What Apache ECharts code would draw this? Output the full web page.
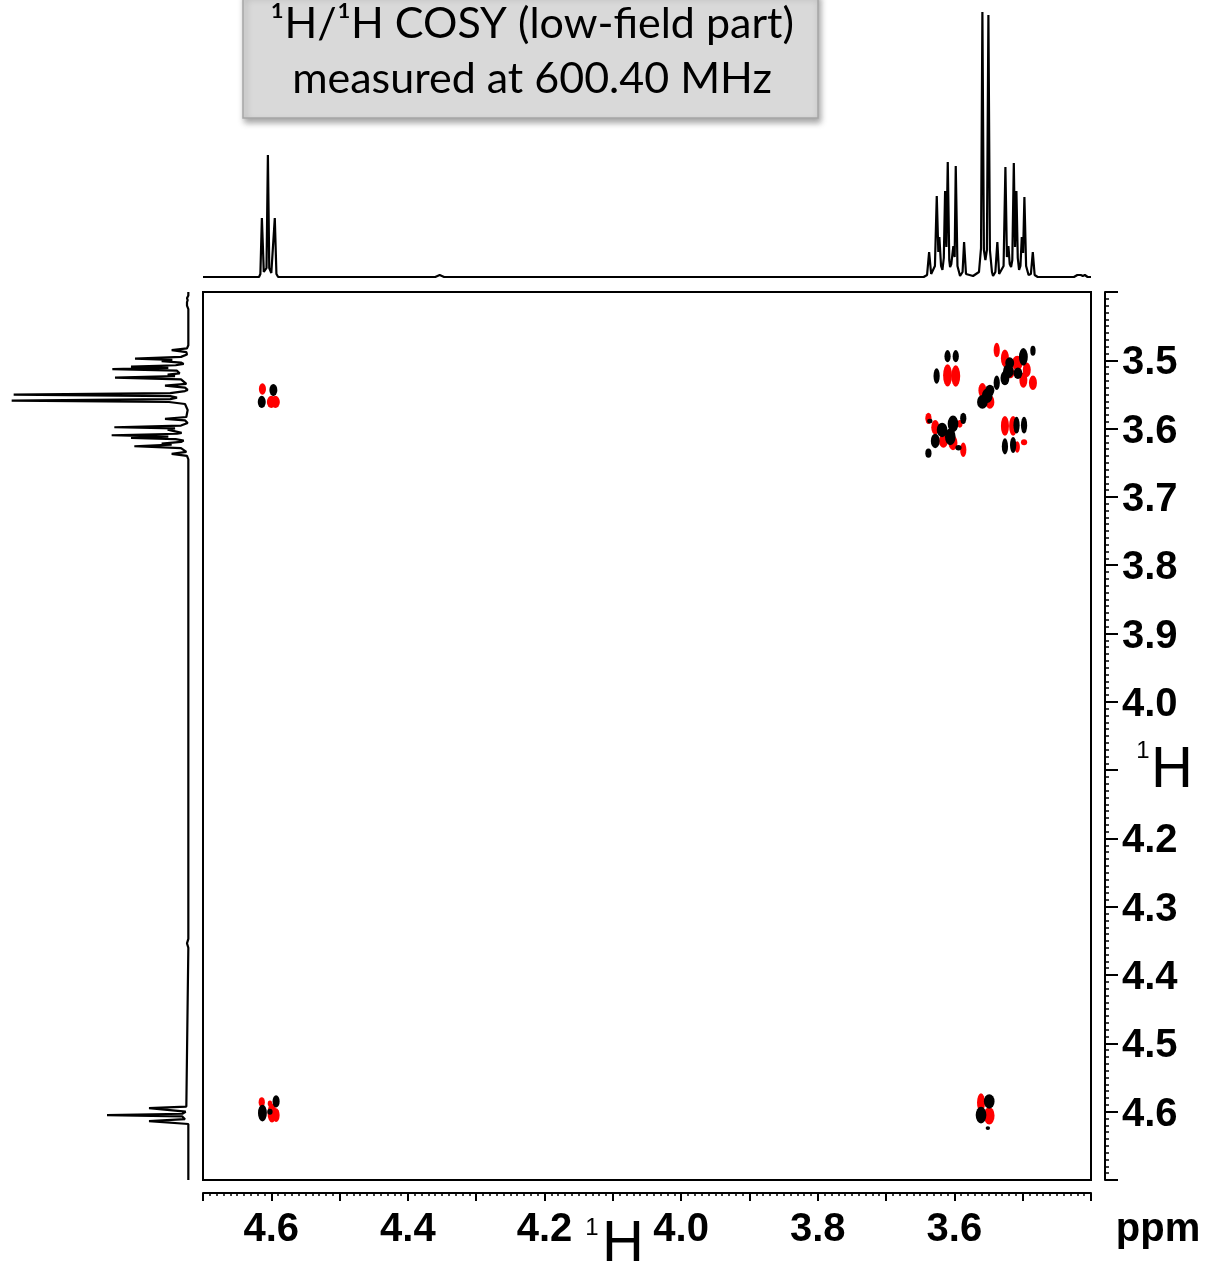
<!DOCTYPE html>
<html>
<head>
<meta charset="utf-8">
<script src="https://cdn.jsdelivr.net/npm/echarts@6/dist/echarts.min.js"></script>
<style>
  html, body { margin: 0; padding: 0; background: #fff; }
  #main { width: 1209px; height: 1267px; }
</style>
</head>
<body>
<div id="main"></div>
<script>
// ppm range of both axes
var ppmMin = 3.40
var ppmMax = 4.70

// 1D 1H projection, [ppm, intensity]
var projection = [
  [4.700, 1], [4.618, 1], [4.6160, 4], [4.6138, 60], [4.6110, 6], [4.6095, 5], [4.6070, 10],
  [4.6050, 123], [4.6030, 10], [4.6000, 5], [4.5975, 6], [4.5949, 60], [4.5925, 4], [4.5900, 1],
  [4.360, 1], [4.3535, 3], [4.347, 1],
  [3.645, 1], [3.640, 3], [3.637, 26], [3.634, 4], [3.6317, 3], [3.6285, 12], [3.6258, 82],
  [3.6235, 26], [3.6220, 41], [3.6195, 12], [3.6175, 8], [3.6155, 20], [3.6136, 87], [3.6117, 31],
  [3.6097, 116], [3.6075, 18], [3.6063, 11], [3.6045, 14], [3.6015, 32], [3.5996, 21], [3.5980, 112],
  [3.5955, 12], [3.5917, 2], [3.5880, 6], [3.5858, 36], [3.5830, 4], [3.5727, 2], [3.5640, 6],
  [3.5610, 30], [3.5590, 266], [3.5568, 28], [3.5546, 18], [3.5524, 28], [3.5502, 263], [3.5480, 28],
  [3.5450, 6], [3.5434, 2], [3.5400, 6], [3.5371, 36], [3.5345, 4], [3.5317, 2], [3.5280, 12],
  [3.5253, 111], [3.5231, 21], [3.5209, 32], [3.5190, 14], [3.5170, 11], [3.5152, 18], [3.5130, 115],
  [3.5112, 31], [3.5092, 87], [3.5072, 20], [3.5053, 8], [3.5033, 12], [3.5013, 41], [3.4994, 25],
  [3.4975, 81], [3.4950, 12], [3.4914, 3], [3.4880, 4], [3.4852, 26], [3.4825, 3], [3.478, 1],
  [3.425, 1], [3.420, 3], [3.418, 1], [3.415, 3], [3.412, 2], [3.409, 3], [3.405, 1], [3.400, 1]
]

// cross peak contours, [f2 ppm, f1 ppm, extent f2, extent f1] (ppm)
var positivePeaks = [
  [4.597, 3.5435, 0.009, 0.016], [4.614, 3.561, 0.009, 0.016],
  [4.593, 4.585, 0.008, 0.016], [4.613, 4.602, 0.010, 0.022], [4.602, 4.600, 0.006, 0.008],
  [3.549, 4.585, 0.012, 0.019], [3.561, 4.605, 0.012, 0.022], [3.551, 4.624, 0.005, 0.005],
  [3.610, 3.494, 0.007, 0.016], [3.598, 3.494, 0.007, 0.016], [3.626, 3.523, 0.007, 0.020],
  [3.499, 3.495, 0.010, 0.023], [3.485, 3.486, 0.006, 0.013], [3.519, 3.504, 0.010, 0.015],
  [3.521, 3.516, 0.012, 0.018], [3.507, 3.519, 0.010, 0.015], [3.526, 3.526, 0.010, 0.019],
  [3.538, 3.533, 0.007, 0.019], [3.548, 3.544, 0.010, 0.015], [3.552, 3.552, 0.012, 0.019],
  [3.559, 3.561, 0.012, 0.018],
  [3.636, 3.589, 0.006, 0.006], [3.618, 3.602, 0.012, 0.019], [3.602, 3.593, 0.012, 0.022],
  [3.587, 3.585, 0.007, 0.015], [3.628, 3.618, 0.010, 0.019], [3.606, 3.612, 0.012, 0.022],
  [3.594, 3.628, 0.007, 0.007], [3.638, 3.636, 0.007, 0.012],
  [3.509, 3.595, 0.007, 0.022], [3.498, 3.595, 0.007, 0.022], [3.526, 3.626, 0.007, 0.021],
  [3.514, 3.624, 0.007, 0.021]
]
var negativePeaks = [
  [4.613, 3.542, 0.008, 0.015], [4.600, 3.561, 0.010, 0.016], [4.594, 3.561, 0.010, 0.016],
  [4.614, 4.586, 0.007, 0.013], [4.602, 4.588, 0.005, 0.008], [4.599, 4.602, 0.010, 0.025],
  [4.593, 4.605, 0.008, 0.018],
  [3.561, 4.587, 0.009, 0.025], [3.549, 4.606, 0.012, 0.023],
  [3.610, 3.522, 0.010, 0.029], [3.598, 3.523, 0.010, 0.028], [3.538, 3.485, 0.007, 0.019],
  [3.526, 3.497, 0.009, 0.023], [3.508, 3.504, 0.012, 0.019], [3.494, 3.514, 0.009, 0.019],
  [3.499, 3.529, 0.009, 0.020], [3.485, 3.533, 0.009, 0.019], [3.559, 3.544, 0.009, 0.019],
  [3.548, 3.561, 0.010, 0.018], [3.518, 3.518, 0.009, 0.015],
  [3.638, 3.585, 0.007, 0.015], [3.628, 3.598, 0.009, 0.019], [3.592, 3.593, 0.006, 0.010],
  [3.616, 3.618, 0.010, 0.018], [3.602, 3.621, 0.010, 0.019], [3.587, 3.631, 0.007, 0.019],
  [3.526, 3.596, 0.009, 0.026], [3.514, 3.596, 0.009, 0.026], [3.508, 3.627, 0.006, 0.015],
  [3.498, 3.620, 0.007, 0.008]
]

var titleLines = ['¹H/¹H COSY (low-field part)', 'measured at 600.40 MHz']
var axisTitle = 'H'
var unitLabel = 'ppm'

var plot = { left: 203, top: 292, size: 888 }
var pxPerPpm = plot.size / (ppmMax - ppmMin)
// outer contour level is drawn a bit wider than the read extent
var contourScale = [1.3, 1.12]
var labelFont = 'Liberation Sans, Arial, sans-serif'

function tenth (v) {
  return Math.round(v * 10)
}

function contourSize (val) {
  return [val[2] * pxPerPpm * contourScale[0], val[3] * pxPerPpm * contourScale[1]]
}

var chart = echarts.init(document.getElementById('main'))

var ppmAxisCommon = {
  type: 'value',
  min: ppmMin,
  max: ppmMax,
  interval: 0.1,
  inverse: true,
  splitLine: { show: false },
  minorSplitLine: { show: false }
}

var options = {
  animation: false,
  backgroundColor: '#fff',
  grid: [
    {
      left: plot.left, top: plot.top, width: plot.size, height: plot.size,
      show: true, borderColor: '#000', borderWidth: 2, backgroundColor: '#fff'
    },
    { left: plot.left, top: 8, width: plot.size, height: 270 },
    { left: 9, top: plot.top, width: 180, height: plot.size }
  ],
  xAxis: [
    Object.assign({}, ppmAxisCommon, {
      gridIndex: 0,
      position: 'bottom',
      offset: 13,
      axisLine: { show: true, onZero: false, lineStyle: { color: '#000', width: 2 } },
      axisTick: { show: true, length: 8, lineStyle: { color: '#000', width: 2 } },
      minorTick: { show: true, splitNumber: 10, length: 3, lineStyle: { color: '#000', width: 1.5 } },
      axisLabel: {
        margin: 17,
        color: '#000',
        fontSize: 40,
        fontWeight: 'bold',
        fontFamily: labelFont,
        formatter: function (v) {
          var n = tenth(v)
          if (n % 2 !== 0 || n === 34) return ''
          return (n / 10).toFixed(1)
        }
      }
    }),
    Object.assign({}, ppmAxisCommon, { gridIndex: 1, show: false }),
    { gridIndex: 2, type: 'value', min: 0, max: 270, inverse: true, show: false }
  ],
  yAxis: [
    Object.assign({}, ppmAxisCommon, {
      gridIndex: 0,
      position: 'right',
      offset: 14,
      axisLine: { show: true, onZero: false, lineStyle: { color: '#000', width: 2 } },
      axisTick: { show: true, length: 13, lineStyle: { color: '#000', width: 2 } },
      minorTick: { show: true, splitNumber: 10, length: 4, lineStyle: { color: '#000', width: 1.5 } },
      axisLabel: {
        margin: 17,
        color: '#000',
        formatter: function (v) {
          var n = tenth(v)
          if (n === 34 || n === 47 || n === 41) return ''
          return '{n|' + (n / 10).toFixed(1) + '}'
        },
        rich: {
          n: {
            fontSize: 40,
            fontWeight: 'bold',
            fontFamily: labelFont,
            color: '#000',
            padding: [6, 0, 0, 0]
          }
        }
      }
    }),
    { gridIndex: 1, type: 'value', min: 0, max: 270, show: false },
    Object.assign({}, ppmAxisCommon, { gridIndex: 2, show: false })
  ],
  series: [
    {
      type: 'line',
      xAxisIndex: 1,
      yAxisIndex: 1,
      data: projection,
      showSymbol: false,
      symbol: 'none',
      lineStyle: { color: '#000', width: 2.2 },
      silent: true
    },
    {
      type: 'line',
      xAxisIndex: 2,
      yAxisIndex: 2,
      data: projection.map(function (p) { return [p[1], p[0]] }),
      showSymbol: false,
      symbol: 'none',
      lineStyle: { color: '#000', width: 2.2 },
      silent: true
    },
    {
      type: 'scatter',
      xAxisIndex: 0,
      yAxisIndex: 0,
      data: negativePeaks,
      symbol: 'circle',
      symbolSize: contourSize,
      itemStyle: { color: '#ff0000', opacity: 1 },
      silent: true
    },
    {
      type: 'scatter',
      xAxisIndex: 0,
      yAxisIndex: 0,
      data: positivePeaks,
      symbol: 'circle',
      symbolSize: contourSize,
      itemStyle: { color: '#000', opacity: 1 },
      silent: true
    }
  ]
}
chart.setOption(options)

// axis titles sit at the 4.1 ppm tick of each axis
var p41 = chart.convertToPixel({ gridIndex: 0 }, [4.1, 4.1])
var bottomY = plot.top + plot.size + 13
var rightX = plot.left + plot.size + 14
var titleFont = '43px Lato, "Open Sans", sans-serif'

chart.setOption({
  graphic: [
    {
      type: 'rect',
      id: 'titleBox',
      shape: { x: 243, y: -6, width: 575, height: 124 },
      style: {
        fill: '#d9d9d9',
        stroke: '#a6a6a6',
        lineWidth: 1.5,
        shadowBlur: 6,
        shadowOffsetX: 2,
        shadowOffsetY: 4,
        shadowColor: 'rgba(0,0,0,0.35)'
      }
    },
    {
      type: 'text', id: 't1',
      style: { text: titleLines[0], x: 532, y: 24, align: 'center', verticalAlign: 'middle',
        font: titleFont, fill: '#000' }
    },
    {
      type: 'text', id: 't2',
      style: { text: titleLines[1], x: 532, y: 79, align: 'center', verticalAlign: 'middle',
        font: titleFont, fill: '#000' }
    },
    {
      type: 'text', id: 'bx1',
      style: { text: '1', x: p41[0] - 21, y: bottomY + 35, align: 'center', verticalAlign: 'middle',
        font: '24px ' + labelFont, fill: '#000' }
    },
    {
      type: 'text', id: 'bxH',
      style: { text: axisTitle, x: p41[0] + 10, y: bottomY + 52, align: 'center', verticalAlign: 'middle',
        font: '58px ' + labelFont, fill: '#000' }
    },
    {
      type: 'text', id: 'ry1',
      style: { text: '1', x: rightX + 38, y: p41[1] - 19, align: 'center', verticalAlign: 'middle',
        font: '24px ' + labelFont, fill: '#000' }
    },
    {
      type: 'text', id: 'ryH',
      style: { text: axisTitle, x: rightX + 67, y: p41[1] + 1, align: 'center', verticalAlign: 'middle',
        font: '58px ' + labelFont, fill: '#000' }
    },
    {
      type: 'text', id: 'ppm',
      style: { text: unitLabel, x: rightX + 53, y: bottomY + 17, align: 'center', verticalAlign: 'top',
        font: 'bold 40px ' + labelFont, fill: '#000' }
    }
  ]
})
</script>
</body>
</html>
